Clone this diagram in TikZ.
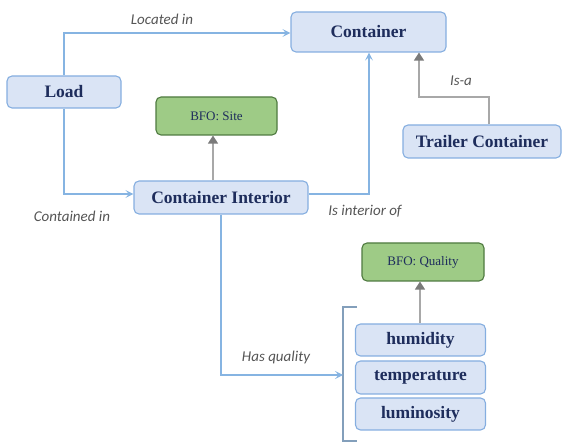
\documentclass[tikz,border=0pt]{standalone}
\usepackage{fontspec}
\setmainfont{Liberation Serif}
\newfontfamily\labelfont{Carlito}[ItalicFont={Carlito Italic}]
\usetikzlibrary{arrows.meta}
\definecolor{boxfill}{HTML}{DAE4F5}
\definecolor{boxline}{HTML}{85AEE0}
\definecolor{boxtext}{HTML}{1E2D5C}
\definecolor{sitefill}{HTML}{9ECB86}
\definecolor{siteline}{HTML}{4F7A40}
\definecolor{linkblue}{HTML}{86B4E2}
\definecolor{isagray}{HTML}{A8A8A8}
\definecolor{tipgray}{HTML}{7A7A7A}
\definecolor{edgetext}{HTML}{555555}
\tikzset{
  classbox/.style={draw=boxline, fill=boxfill, line width=1.1pt, rounded corners=5pt,
    text=boxtext, font=\fontsize{17.5}{19}\selectfont\bfseries, inner sep=0pt},
  bfobox/.style={draw=siteline, fill=sitefill, line width=1.1pt, rounded corners=5pt,
    text=boxtext, font=\fontsize{13}{15}\selectfont, inner sep=0pt},
  relation/.style={draw=linkblue, line width=1.1pt,
    -{Stealth[length=8pt,width=8pt,inset=3.5pt]}},
  subclass/.style={draw=isagray, line width=1.2pt,
    -{Triangle[length=8pt,width=10pt,color=tipgray]}},
  edgelabel/.style={font=\labelfont\itshape\fontsize{15}{17}\selectfont, text=edgetext, inner sep=0pt},
}
\begin{document}
\begin{tikzpicture}[x=1pt,y=-1pt]
\useasboundingbox (0,0) rectangle (571,443);

% classes
\node[classbox, minimum width=114pt, minimum height=32pt] (load) at (64,92) {Load};
\node[classbox, minimum width=155pt, minimum height=40pt] (container) at (368.5,32) {Container};
\node[classbox, minimum width=174pt, minimum height=33pt] (interior) at (221,197.5) {Container Interior};
\node[classbox, minimum width=158pt, minimum height=33pt] (trailer) at (482,141.5) {Trailer Container};
\node[classbox, minimum width=130pt, minimum height=32pt] (humidity) at (420.5,340) {humidity};
\node[classbox, minimum width=130pt, minimum height=33pt] (temperature) at (420.5,377.5) {temperature};
\node[classbox, minimum width=130pt, minimum height=32pt] (luminosity) at (420.5,414) {luminosity};

% BFO upper classes
\node[bfobox, minimum width=121pt, minimum height=38pt] (site) at (216.5,116) {BFO: Site};
\node[bfobox, minimum width=122pt, minimum height=38pt] (quality) at (423,262) {BFO: Quality};

% bracket grouping the qualities
\coordinate (brtop) at (343,307);
\coordinate (brbot) at (343,441);
\coordinate (brin) at (343,375);
\draw[draw=linkblue!60!gray, line width=1.1pt] ([xshift=14pt]brtop) -- (brtop) -- (brbot) -- ([xshift=14pt]brbot);

% relations
\draw[relation] (load.north) -- (load.north |- 0,33) -- (container.west |- 0,33);
\draw[relation] (load.south) -- (load.south |- 0,194) -- (interior.west |- 0,194);
\draw[relation] (interior.east |- 0,194) -- (369,194) -- (container.south -| 369,0);
\draw[relation] (interior.south -| 221,0) -- (221,375) -- (brin);

% subclass links
\draw[subclass] (trailer.north -| 489,0) -- (489,97) -- (419,97) -- (container.south -| 419,0);
\draw[subclass] (interior.north -| 213,0) -- (site.south -| 213,0);
\draw[subclass] (humidity.north -| 420,0) -- (quality.south -| 420,0);

% relation labels
\node[edgelabel] (lbllocated) at (162,19) {Located in};
\node[edgelabel] (lblcontained) at (72,216) {Contained in};
\node[edgelabel] (lblinterior) at (365,211) {Is interior of};
\node[edgelabel] (lblisa) at (461,81) {Is-a};
\node[edgelabel] (lblquality) at (276,358) {Has quality};
\end{tikzpicture}
\end{document}
